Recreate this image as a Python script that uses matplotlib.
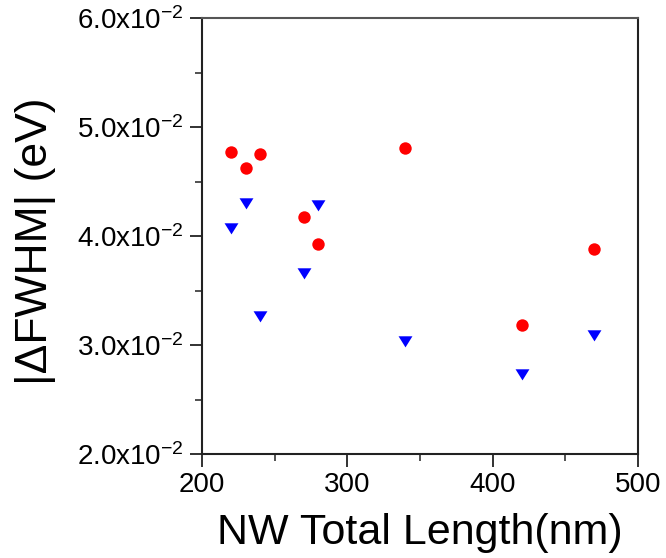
import matplotlib
matplotlib.use("Agg")
import matplotlib.pyplot as plt
from matplotlib.ticker import MultipleLocator, FuncFormatter

plt.rcParams["font.family"] = ["Liberation Sans", "DejaVu Sans"]
plt.rcParams["mathtext.fontset"] = "custom"
plt.rcParams["mathtext.rm"] = "Liberation Sans"
plt.rcParams["mathtext.it"] = "Liberation Sans"

# NW total length (nm) and |dFWHM| (eV)
length_red = [220, 230, 240, 270, 280, 340, 420, 470]
fwhm_red = [0.0477, 0.0462, 0.0475, 0.0417, 0.0393, 0.0481, 0.0318, 0.0388]

length_blue = [220, 230, 240, 270, 280, 340, 420, 470]
fwhm_blue = [0.0407, 0.0430, 0.0327, 0.0366, 0.0428, 0.0304, 0.0273, 0.0309]


def sci_fmt(v, pos):
    return r"%.1fx10$^{\mathregular{-2}}$" % (v * 100)


fig = plt.figure(figsize=(6.66, 5.58), dpi=100)
ax = fig.add_axes([202 / 666, 1 - 454 / 558, 436 / 666, 436 / 558])

ax.scatter(length_red, fwhm_red, s=80, color="#ff0000", marker="o",
           linewidths=0, zorder=3)
tri = [(-1, 0.75), (1, 0.75), (0, -0.85)]
ax.scatter(length_blue, fwhm_blue, s=100, color="#0000ff", marker=tri,
           linewidths=0, zorder=3)

ax.set_xlim(200, 500)
ax.set_ylim(0.02, 0.06)
ax.xaxis.set_major_locator(MultipleLocator(100))
ax.xaxis.set_minor_locator(MultipleLocator(50))
ax.yaxis.set_major_locator(MultipleLocator(0.01))
ax.yaxis.set_minor_locator(MultipleLocator(0.005))
ax.yaxis.set_major_formatter(FuncFormatter(sci_fmt))

ax.tick_params(which="major", direction="out", length=9, width=1.3,
               labelsize=20, colors="#222222", labelcolor="black", pad=4)
ax.tick_params(which="minor", direction="out", length=5, width=1.1,
               colors="#222222")
for s in ax.spines.values():
    s.set_linewidth(1.5)
    s.set_color("#222222")
ax.spines["top"].set_color("#555555")

ax.set_xlabel("NW Total Length(nm)", fontsize=31)
ax.set_ylabel("|ΔFWHM| (eV)", fontsize=32)
ax.xaxis.set_label_coords(0.5, -0.135)
ax.yaxis.set_label_coords(-0.335, 0.489)

fig.savefig("out.png", dpi=100)
